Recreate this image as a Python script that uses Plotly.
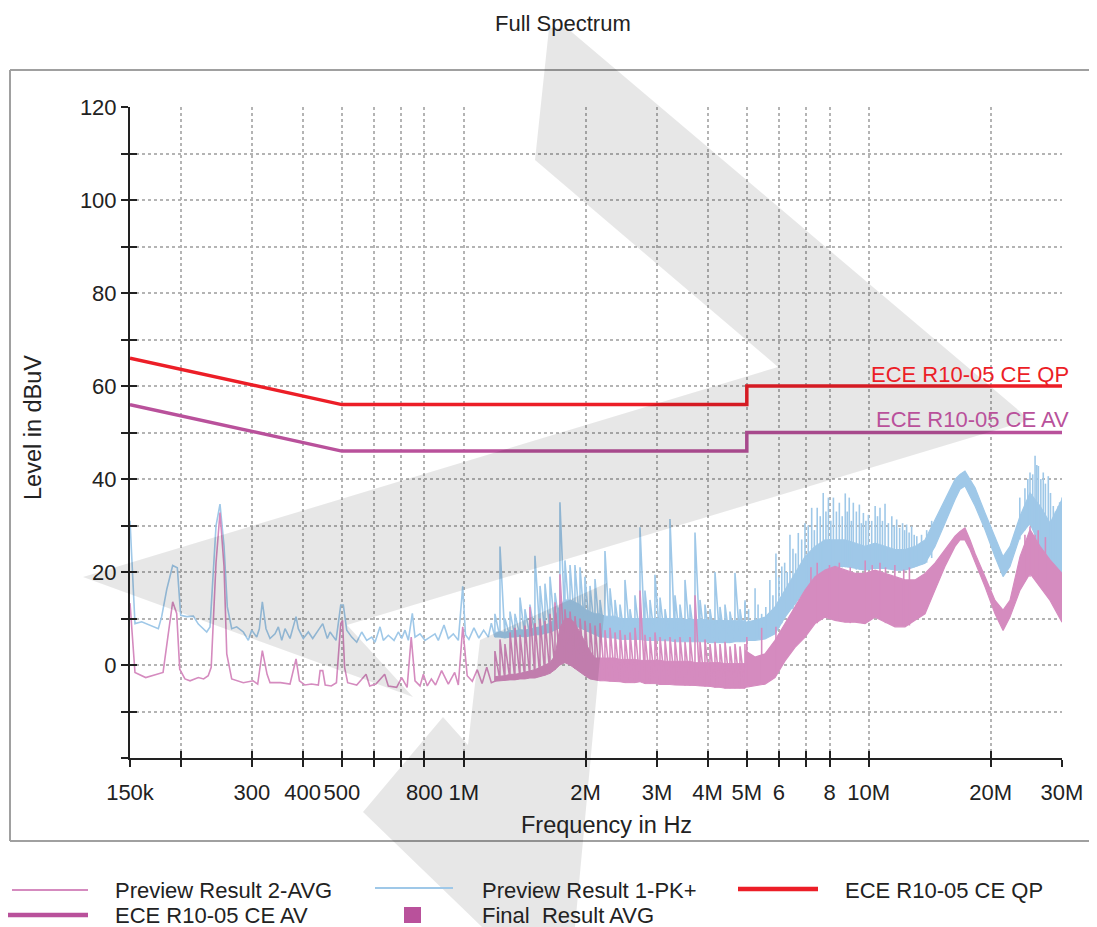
import math
import plotly.graph_objects as go

# ---------------- data (frequency in MHz, level in dBuV) ----------------
QP_F = [0.15, 0.5, 5.0, 5.0, 30.0]
QP_V = [66, 56, 56, 60, 60]
AV_F = [0.15, 0.5, 5.0, 5.0, 30.0]
AV_V = [56, 46, 46, 50, 50]

# Preview Result 1-PK+ (blue) : low-frequency detail
PK_LOW_F = [0.150, 0.1543, 0.1603, 0.1762, 0.1796, 0.1848, 0.1912, 0.1963, 0.2001, 0.2071,
            0.2150, 0.2212, 0.2320, 0.2364, 0.2446, 0.2502, 0.2560, 0.2608, 0.2674, 0.2751,
            0.2857, 0.2939, 0.2996, 0.3083, 0.3129, 0.3183, 0.3250, 0.3325, 0.3421, 0.3486,
            0.3554, 0.3621, 0.3725, 0.3855, 0.3905, 0.4018, 0.4134, 0.4238, 0.4376, 0.4487,
            0.4605, 0.4677, 0.4839, 0.4970, 0.5044, 0.5143, 0.5291, 0.5443, 0.5600, 0.5762,
            0.5928, 0.6040, 0.6214, 0.6332, 0.6514, 0.6729, 0.6895, 0.7030, 0.7163, 0.7299,
            0.7467, 0.7582, 0.7800, 0.8025, 0.8256, 0.8494, 0.8655, 0.8940, 0.9162, 0.9426,
            0.9698, 0.9944, 1.01, 1.03, 1.06, 1.09, 1.12, 1.15, 1.17]
PK_LOW_V = [31.0, 8.9, 9.3, 7.8, 10.4, 16.2, 21.4, 20.9, 10.7, 10.4,
            10.5, 8.8, 7.1, 8.2, 29.9, 34.6, 25.6, 12.5, 7.8, 8.2,
            7.1, 5.3, 7.5, 6.0, 7.8, 13.6, 7.8, 5.7, 6.7, 8.2,
            5.3, 7.8, 5.7, 10.4, 7.8, 5.7, 7.1, 5.7, 7.5, 8.9,
            5.7, 7.1, 5.3, 12.9, 12.9, 7.5, 6.0, 4.9, 7.1, 5.3,
            6.0, 4.9, 8.2, 5.3, 6.4, 5.3, 7.1, 5.7, 7.5, 5.3,
            11.1, 6.0, 6.7, 5.3, 6.0, 6.7, 5.3, 8.6, 5.7, 6.7,
            5.3, 16.9, 6.5, 5.5, 8.0, 5.8, 7.5, 6.0, 9.0]

# Preview Result 2-AVG (pink) : low-frequency detail
AVG_LOW_F = [0.150, 0.1543, 0.164, 0.1762, 0.181, 0.186, 0.1912, 0.1956, 0.199, 0.205,
             0.211, 0.2212, 0.228, 0.234, 0.238, 0.2446, 0.2502, 0.2560, 0.260, 0.2674,
             0.2751, 0.2857, 0.302, 0.310, 0.3183, 0.327, 0.3325, 0.353, 0.3725, 0.3855,
             0.393, 0.405, 0.421, 0.4376, 0.442, 0.4487, 0.455, 0.471, 0.485, 0.4970,
             0.502, 0.508, 0.517, 0.5443, 0.574, 0.586, 0.607, 0.638, 0.6514, 0.683,
             0.703, 0.725, 0.742, 0.7582, 0.780, 0.795, 0.813, 0.832, 0.852, 0.882,
             0.9162, 0.950, 0.9698, 0.9944, 1.02, 1.05, 1.08, 1.11, 1.14, 1.17]
AVG_LOW_V = [13.3, -1.6, -2.7, -1.8, -1.6, 6.0, 13.6, 11.1, -0.9, -3.0,
             -3.4, -2.7, -3.0, -2.3, -0.5, 22.0, 32.8, 21.2, 2.4, -3.0,
             -3.4, -3.8, -3.4, -4.1, 3.1, -2.0, -3.8, -3.8, -4.1, 1.3,
             -3.4, -4.3, -4.1, -4.3, -1.2, -1.2, -4.3, -4.5, -3.8, 8.9,
             9.6, -0.5, -3.8, -4.3, -2.0, -4.5, -4.1, -2.0, -4.5, -4.8,
             -2.7, -4.8, 6.0, -3.4, -4.5, -2.0, -4.5, -3.0, -4.3, -1.2,
             -4.1, -1.6, -4.3, 8.2, -2.3, -3.5, -1.0, -4.0, -0.5, -3.8]

# 1.2 MHz - 5 MHz : comb of harmonics (frequency, floor, solid top, spike top)
COMB_F = [1.194, 1.229, 1.264, 1.301, 1.338, 1.377, 1.416, 1.457, 1.499, 1.543,
          1.587, 1.633, 1.680, 1.728, 1.778, 1.830, 1.882, 1.937, 1.992, 2.050,
          2.109, 2.170, 2.232, 2.297, 2.363, 2.431, 2.501, 2.573, 2.647, 2.724,
          2.802, 2.883, 2.966, 3.052, 3.140, 3.230, 3.323, 3.419, 3.518, 3.619,
          3.724, 3.831, 3.941, 4.055, 4.172, 4.292, 4.416, 4.543, 4.674, 4.809, 4.948]
PK_COMB_FLOOR = [6, 6, 5.8, 6, 6, 6.2, 6, 6.2, 6.5, 6.5,
                 6.8, 7, 7.5, 8, 8.5, 8.5, 8.5, 8, 7.5, 7,
                 6.5, 6, 6, 5.8, 5.8, 5.5, 5.5, 5.5, 5.5, 5.5,
                 5.3, 5.3, 5.3, 5.2, 5.2, 5.2, 5, 5, 5, 5,
                 5, 5, 5, 4.8, 4.8, 4.8, 4.8, 4.8, 5, 5, 5]
PK_COMB_DENSE = [7, 7.2, 7, 7.4, 7.4, 7.6, 7.5, 7.8, 8, 8.2,
                 8.6, 9, 10, 13, 14, 14, 13.5, 13, 12, 11.5,
                 11, 11, 10.5, 10.5, 10.5, 10, 10, 10, 10, 10,
                 10, 10, 10, 10, 10, 10, 10, 10, 9.8, 9.8,
                 9.8, 9.8, 9.8, 9.6, 9.6, 9.6, 9.6, 9.5, 9.5, 9.5, 9.5]
PK_COMB_TOP = [11, 25.5, 10, 11.5, 11, 14.5, 12, 13, 23.5, 17,
               17.5, 19, 15.5, 35, 22.5, 21.5, 21.5, 21, 19, 17,
               18.5, 14, 24.5, 16.5, 14, 13, 18.3, 12, 15, 29.6,
               16, 14, 19.4, 14.5, 12, 31.4, 15, 13, 18.3, 13,
               28.5, 14, 13, 12, 20, 12.5, 13, 11.5, 19.8, 12, 13.5]
AVG_COMB_FLOOR = [-3.5, -3.4, -3.3, -3.2, -3.2, -3, -3, -2.8, -2.8, -2.5,
                  -2.2, -1.8, -1, 0, 0.5, 0, -0.8, -1.5, -2.3, -3,
                  -3.2, -3.4, -3.4, -3.5, -3.6, -3.6, -3.8, -3.8, -3.8, -3.6,
                  -4, -4, -4, -4.2, -4.2, -4.2, -4.3, -4.3, -4.4, -4.4,
                  -4.4, -4.5, -4.6, -4.6, -4.8, -4.8, -5, -5, -5, -5, -5]
AVG_COMB_DENSE = [-2.5, -2.4, -2.3, -2, -2, -1.8, -1.5, -1.3, -1, -0.5,
                  0, 0.5, 2, 8, 10, 10, 9, 7, 5, 3,
                  1.5, 1.5, 1.5, 1.5, 1.5, 1.2, 1.2, 1.2, 1.2, 1,
                  1, 1, 1, 1, 0.8, 0.8, 0.8, 0.8, 0.8, 0.8,
                  0.5, 0.5, 0.5, 0.5, 0.5, 0.5, 0.3, 0.3, 0.3, 0.3, 0.3]
AVG_COMB_TOP = [3, 5.5, 4.5, 7, 8, 6.5, 8.5, 12.5, 9, 10,
                9.5, 11, 13.5, 19.5, 12, 11.5, 10.5, 10, 9.5, 9,
                8.5, 9, 7.5, 8, 7, 7.5, 6.5, 7, 8, 16,
                6.5, 6, 7, 6, 5.5, 6, 5.5, 6, 5, 6,
                15, 5, 5.5, 4.5, 5, 4.5, 5, 4, 4.5, 4, 4.5]

# 5 MHz - 30 MHz : dense band (lower / upper envelope)
BAND_F = [4.947, 5.238, 5.545, 5.870, 6.213, 6.577, 6.962, 7.369, 7.800, 8.256,
          8.740, 9.251, 9.793, 10.37, 10.97, 11.61, 12.29, 13.01, 13.77, 14.57,
          15.42, 16.33, 16.80, 17.28, 17.79, 18.30, 19.37, 20.50, 21.46, 22.32,
          23.63, 25.01, 26.48, 28.03, 30.0]
PK_BAND_LO = [5.3, 5.3, 5.6, 6.7, 10.3, 13.2, 16.1, 18.3, 20.1, 21.2,
              21.2, 20.8, 20.4, 20.8, 20.8, 20.4, 20.4, 21.2, 21.9, 25.5,
              30.5, 35.6, 37.8, 38.5, 36.3, 34.2, 29.1, 23.3, 19.0, 21.2,
              27.7, 30.5, 25.5, 21.9, 19.0]
PK_BAND_HI = [9.2, 9.6, 10.3, 12.5, 16.1, 19.7, 23.3, 25.5, 26.9, 26.9,
              26.9, 26.2, 25.5, 26.2, 25.5, 24.8, 24.8, 25.5, 26.9, 31.3,
              35.6, 39.9, 41.0, 41.7, 39.9, 38.1, 32.7, 27.7, 23.3, 25.5,
              32.0, 37.0, 34.2, 30.5, 35.6]
AVG_BAND_LO = [-4.8, -4.5, -4.1, -2.7, 0.9, 3.8, 6.0, 8.9, 10.3, 9.6,
               9.2, 9.2, 8.9, 10.3, 9.2, 8.2, 8.2, 9.6, 11.0, 16.1,
               21.2, 25.5, 26.9, 26.9, 24.8, 21.9, 16.8, 11.0, 7.4, 10.3,
               16.1, 19.7, 16.8, 13.9, 9.2]
AVG_BAND_HI = [3.1, 1.7, 2.4, 5.3, 8.9, 12.5, 16.1, 19.0, 20.4, 21.2,
               20.4, 19.7, 19.7, 20.4, 19.7, 19.0, 18.3, 18.3, 19.7, 21.9,
               24.8, 27.7, 28.7, 29.5, 26.9, 24.0, 19.0, 13.9, 11.8, 13.9,
               23.3, 29.1, 25.5, 22.6, 19.7]

# isolated spikes above the band (frequency, base, top)
PK_SPIKE_F = [4.95, 5.24, 5.44, 5.70, 5.90, 6.10, 6.39, 6.70, 6.96, 7.23,
              7.46, 7.72, 7.95, 8.18, 8.46, 8.75, 8.95, 9.16, 9.48, 9.70,
              9.98, 10.37, 10.66, 10.97, 11.40, 11.72, 12.12, 12.40, 12.76, 13.14,
              25.01, 25.74, 26.23, 26.97, 27.75, 28.55, 29.37, 30.0,
              5.05, 5.33, 5.57, 5.80, 6.00, 6.20, 6.29, 6.50, 6.60, 6.83,
              7.09, 7.34, 7.59, 7.84, 8.06, 8.32, 8.60, 8.85, 9.06, 9.32,
              9.59, 9.84, 10.17, 10.51, 10.81, 11.18, 11.56, 11.92, 12.26, 12.58,
              12.95, 13.50, 13.90, 14.30, 23.60, 24.30, 24.70, 25.40, 26.00, 26.60,
              27.30, 28.10, 28.90, 29.60]
PK_SPIKE_BASE = [6, 6, 6, 6.5, 7, 9, 12, 14, 16, 17,
                 18, 19, 20, 21, 21, 21, 21, 21, 20.5, 20.5,
                 20.5, 20.8, 20.8, 20.8, 20.6, 20.4, 20.4, 20.6, 21, 21.2,
                 30, 28, 27, 25, 23, 22, 20, 19,
                 6, 6, 6, 6.5, 8, 10, 11, 12, 13, 15,
                 16, 17, 19, 20, 20.5, 21, 21, 21, 21, 20.5,
                 20.5, 20.5, 20.6, 20.8, 20.8, 20.6, 20.4, 20.4, 20.5, 20.8,
                 21, 21.5, 22, 23, 27, 29, 30, 29, 27, 26,
                 24, 22, 21, 20]
PK_SPIKE_TOP = [13.9, 16.5, 11.0, 18.3, 24.0, 21.2, 28.0, 28.4, 30.5, 33.8,
                33.8, 37.0, 36.0, 36.0, 34.9, 36.9, 36.0, 34.9, 34.5, 32.7,
                32.3, 34.2, 33.8, 34.7, 32.0, 31.3, 30.5, 30.2, 29.8, 27.7,
                41.4, 45.0, 42.8, 41.4, 40.6, 34.2, 34.2, 36.0,
                12, 13, 12.5, 15, 19, 22, 20, 25, 24, 27,
                30, 29, 32, 33, 31, 33, 32, 33, 31, 33,
                30.5, 31, 31, 32, 31, 30.5, 30, 29.5, 29, 28.5,
                28, 28, 29, 31, 36, 38, 40, 41, 43, 40,
                39, 37, 33, 35]
AVG_SPIKE_F = [5.0, 5.44, 5.90, 7.46, 8.46, 9.80, 10.66, 11.60, 12.60, 25.01, 25.74,
               7.20, 8.00, 9.00, 10.20, 11.00, 12.20, 24.30, 26.20, 27.30]
AVG_SPIKE_BASE = [-4, -4, -2, 9, 10, 9, 10, 8.5, 8.5, 19, 19,
                  9, 10, 9, 10, 9, 8.5, 18, 18, 16]
AVG_SPIKE_TOP = [6, 8, 8.2, 22, 22, 22.5, 22, 21.5, 21, 29.8, 28,
                 21, 21.5, 21, 21.5, 21, 20.5, 28, 29, 27.5]

X_TICKS = [0.15, 0.2, 0.3, 0.4, 0.5, 0.6, 0.7, 0.8, 1, 2, 3, 4, 5, 6, 7, 8, 10, 20, 30]
X_TICKTEXT = ["150k", "", "300", "400", "500", "", "", "800", "1M", "2M", "3M", "4M",
              "5M", "6", "", "8", "10M", "20M", "30M"]
Y_TICKS = [-20, -10, 0, 10, 20, 30, 40, 50, 60, 70, 80, 90, 100, 110, 120]
Y_TICKTEXT = ["", "", "0", "", "20", "", "40", "", "60", "", "80", "", "100", "", "120"]

# ---------------- styling ----------------
BLUE = "#9fc8e8"
PINK = "#d58bbf"
PURPLE = "#b9519b"
RED = "#ec1e27"
FONT = "Liberation Sans, Arial, sans-serif"
FS = 22
FS_TITLE = 23.5
PAGE_OFF = 8                      # default body margin of the html page
PAGE_W, PAGE_H = 1097, 927
L, R, T, B = 130, 1062, 107, 758  # plot area in page pixels


def px(x):
    return (x - L) / (R - L)


def py(y):
    return (B - y) / (B - T)


def comb(fs, lows, highs):
    xs, ys = [], []
    for f, lo, hi in zip(fs, lows, highs):
        xs += [f, f]
        ys += [lo, hi]
    return xs, ys


def spikes(fs, bases, tops):
    xs, ys = [], []
    for f, b, t in zip(fs, bases, tops):
        xs += [f, f, None]
        ys += [b, t, None]
    return xs, ys


def band(fs, lows, highs):
    return list(fs) + list(fs)[::-1], list(highs) + list(lows)[::-1]


fig = go.Figure()


def add_series(color, low_f, low_v, floor, dense, top, band_lo, band_hi, sp_f, sp_b, sp_t):
    bx, by = band(COMB_F, floor, dense)
    fig.add_trace(go.Scatter(x=bx, y=by, mode="lines", fill="toself", fillcolor=color,
                             line=dict(color=color, width=1), hoverinfo="skip"))
    cx, cy = comb(COMB_F, floor, top)
    fig.add_trace(go.Scatter(x=low_f + cx, y=low_v + cy, mode="lines",
                             line=dict(color=color, width=1.6), hoverinfo="skip"))
    bx, by = band(BAND_F, band_lo, band_hi)
    fig.add_trace(go.Scatter(x=bx, y=by, mode="lines", fill="toself", fillcolor=color,
                             line=dict(color=color, width=1.2), hoverinfo="skip"))
    sx, sy = spikes(sp_f, sp_b, sp_t)
    fig.add_trace(go.Scatter(x=sx, y=sy, mode="lines", line=dict(color=color, width=1.6),
                             hoverinfo="skip"))


add_series(BLUE, PK_LOW_F, PK_LOW_V, PK_COMB_FLOOR, PK_COMB_DENSE, PK_COMB_TOP,
           PK_BAND_LO, PK_BAND_HI, PK_SPIKE_F, PK_SPIKE_BASE, PK_SPIKE_TOP)
add_series(PINK, AVG_LOW_F, AVG_LOW_V, AVG_COMB_FLOOR, AVG_COMB_DENSE, AVG_COMB_TOP,
           AVG_BAND_LO, AVG_BAND_HI, AVG_SPIKE_F, AVG_SPIKE_BASE, AVG_SPIKE_TOP)

# limit lines
fig.add_trace(go.Scatter(x=QP_F, y=QP_V, mode="lines", line=dict(color=RED, width=3.5),
                         hoverinfo="skip"))
fig.add_trace(go.Scatter(x=AV_F, y=AV_V, mode="lines", line=dict(color=PURPLE, width=3.5),
                         hoverinfo="skip"))

# dummy trace for the overlay axes (inner tick marks)
fig.add_trace(go.Scatter(x=[0.15], y=[-20], xaxis="x2", yaxis="y2", mode="markers",
                         marker=dict(opacity=0), hoverinfo="skip"))

xr = [math.log10(0.15), math.log10(30)]

axis_common = dict(showline=True, linecolor="#222222", linewidth=2, ticks="outside",
                   ticklen=7, tickwidth=2, tickcolor="#222222", zeroline=False,
                   showgrid=True, gridcolor="#b4b4b4", gridwidth=1.5, griddash="dot",
                   tickfont=dict(family=FONT, size=FS, color="#222222"), automargin=False)

fig.update_layout(
    width=PAGE_W - PAGE_OFF, height=PAGE_H - PAGE_OFF, autosize=False,
    margin=dict(l=L - PAGE_OFF, r=PAGE_W - R, t=T - PAGE_OFF, b=PAGE_H - B),
    paper_bgcolor="white", plot_bgcolor="white",
    showlegend=False,
    xaxis=dict(type="log", range=xr, tickmode="array", tickvals=X_TICKS,
               ticktext=X_TICKTEXT, ticklabelstandoff=7, **axis_common),
    yaxis=dict(range=[-20, 120], tickmode="array", tickvals=Y_TICKS,
               ticktext=Y_TICKTEXT, **axis_common),
    xaxis2=dict(type="log", range=xr, overlaying="x", anchor="y", side="bottom",
                tickmode="array", tickvals=X_TICKS, ticks="inside", ticklen=7,
                tickwidth=2, tickcolor="#222222", showticklabels=False,
                showgrid=False, showline=False, zeroline=False),
    yaxis2=dict(range=[-20, 120], overlaying="y", anchor="x", side="left",
                tickmode="array", tickvals=Y_TICKS, ticks="inside", ticklen=7,
                tickwidth=2, tickcolor="#222222", showticklabels=False,
                showgrid=False, showline=False, zeroline=False),
)

shapes = []
# outer frame
for (x0, y0, x1, y1) in [(10, 70, PAGE_W, 70), (10, 70, 10, 841), (10, 841, PAGE_W, 841)]:
    shapes.append(dict(type="line", xref="paper", yref="paper", x0=px(x0), y0=py(y0),
                       x1=px(x1), y1=py(y1), line=dict(color="#a0a0a0", width=2),
                       layer="below"))


def poly(pts):
    return "M " + " L ".join(f"{px(x):.5f},{py(y):.5f}" for x, y in pts) + " Z"


WM_A = [(549, 28), (567, 28), (1030, 420), (347, 625), (413, 697), (83, 577),
        (778, 367), (535, 160)]
WM_B = [(363, 812), (443, 717), (468, 745), (480, 640), (607, 583), (575, 927), (482, 927)]
for pts in (WM_A, WM_B):
    shapes.append(dict(type="path", xref="paper", yref="paper", path=poly(pts),
                       fillcolor="rgba(0,0,0,0.095)", line=dict(width=0), layer="above"))

# legend samples
LEG = [(12, 88, 890, PINK, 2), (375, 453, 888, BLUE, 2), (738, 818, 889, RED, 4.5),
       (6, 88, 915, PURPLE, 4.5)]
for x0, x1, y, c, w in LEG:
    shapes.append(dict(type="line", xref="paper", yref="paper", x0=px(x0), x1=px(x1),
                       y0=py(y), y1=py(y), line=dict(color=c, width=w)))
shapes.append(dict(type="rect", xref="paper", yref="paper", x0=px(404), x1=px(421),
                   y0=py(907), y1=py(923), fillcolor=PURPLE, line=dict(width=0)))
fig.update_layout(shapes=shapes)

ann = []


def text(t, x, y, anchor="left", color="#222222", size=FS, angle=0):
    ann.append(dict(text=t, x=px(x), y=py(y), xref="paper", yref="paper",
                    xanchor=anchor, yanchor="middle", showarrow=False, textangle=angle,
                    font=dict(family=FONT, size=size, color=color)))


text("Full Spectrum", 563, 24, "center")
text("Level in dBuV", 33, 428, "center", size=FS_TITLE, angle=-90)
text("Frequency in Hz", 606, 825, "center", size=FS_TITLE)
text("ECE R10-05 CE QP", 1071, 374, "right", RED)
text("ECE R10-05 CE AV", 1071, 420, "right", PURPLE)
text("Preview Result 2-AVG", 113, 890)
text("Preview Result 1-PK+", 480, 890)
text("ECE R10-05 CE QP", 843, 890)
text("ECE R10-05 CE AV", 113, 915)
text("Final  Result AVG", 480, 915)
fig.update_layout(annotations=ann)

fig.write_html("out.html")
